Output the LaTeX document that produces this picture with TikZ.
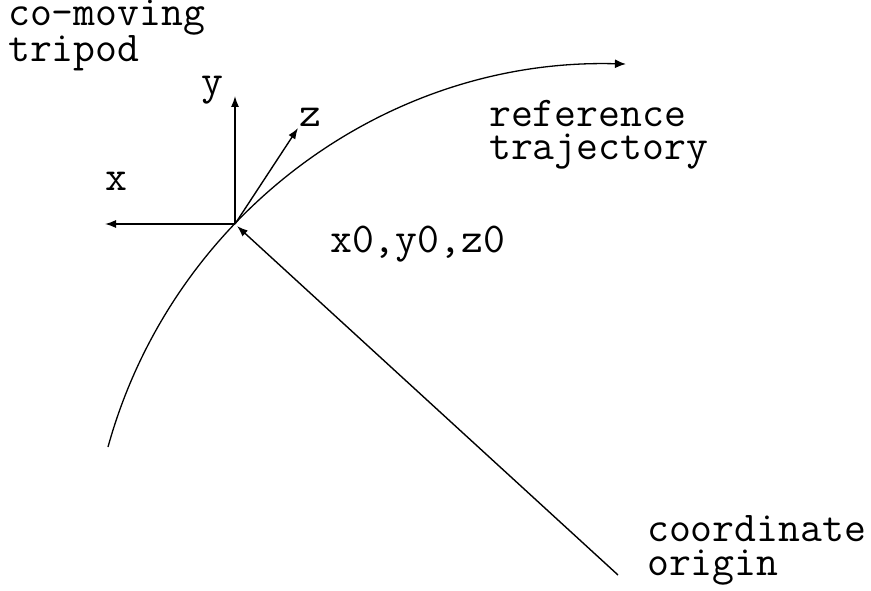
\documentclass[tikz,border=0pt]{standalone}
\usepackage{fontspec}
\usetikzlibrary{arrows.meta}
\begin{document}
\begin{tikzpicture}[x=1pt,y=1pt,
  lbl/.style={inner sep=0pt,anchor=base west,font=\ttfamily\fontsize{42.5}{33.5}\selectfont,align=left},
  axis/.style={line width=1.4pt,-{Latex[length=11pt,width=8pt]}},
  traj/.style={line width=1.3pt,-{Latex[length=11pt,width=9pt]}}]
\useasboundingbox[fill=white] (0,0) rectangle (871,590);
% points
\coordinate (O) at (235,366);
\coordinate (ytip) at (235,494);
\coordinate (xtip) at (105,366);
\coordinate (ztip) at (298,462);
\coordinate (orig) at (618,15);
\coordinate (cstart) at (108,143);
% trajectory: circle arc, centre (611.3,4.0), radius 522.2
\draw[traj] (cstart) arc[start angle=164.56,end angle=88.4,radius=522.2];
% tripod axes
\draw[axis] (O) -- (ytip);
\draw[axis] (O) -- (xtip);
\draw[axis] (O) -- (ztip);
% position vector
\draw[axis] (orig) -- ([shift={(2,-2)}]O);
% labels
\node[lbl] (tcomov) at (8,528) {co-moving\\tripod};
\node[lbl] (ty) at (201,495) {y};
\node[lbl] (tz) at (299,463) {z};
\node[lbl] (tx) at (105,399) {x};
\node[lbl] (tpos) at (330,337) {x0,y0,z0};
\node[lbl] (tref) at (489,430) {reference\\trajectory};
\node[lbl] (tco) at (647,15) {coordinate\\origin};
\end{tikzpicture}
\end{document}
